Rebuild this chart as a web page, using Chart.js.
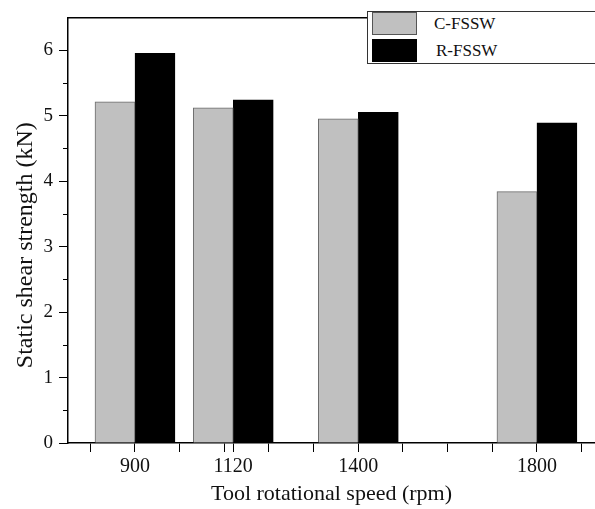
<!DOCTYPE html>
<html>
<head>
<meta charset="utf-8">
<script src="https://cdn.jsdelivr.net/npm/chart.js@4/dist/chart.umd.min.js"></script>
<style>
  html, body { margin: 0; padding: 0; background: #fff; overflow: hidden; }
  #wrap { position: relative; width: 595px; height: 509px; }
  #legend {
    position: absolute; left: 367px; top: 11px; width: 240px; height: 51px;
    border: 1px solid #333; border-right: none; background: #fff;
    font-family: "Liberation Serif", "Times New Roman", serif; font-size: 17px; color: #111;
  }
  .row { position: absolute; left: 4px; height: 24px; }
  .sw { position: absolute; left: 0; top: 0; width: 45px; height: 23px; box-sizing: border-box; }
  .lbl { position: absolute; left: 62px; top: 2px; white-space: nowrap; }
</style>
</head>
<body>
<div id="wrap">
  <canvas id="chart"></canvas>
  <div id="legend">
    <div class="row" style="top:0px"><div class="sw" style="background:#c0c0c0;border:1.5px solid #555"></div><div class="lbl">C-FSSW</div></div>
    <div class="row" style="top:27px"><div class="sw" style="background:#000"></div><div class="lbl" style="left:64px">R-FSSW</div></div>
  </div>
</div>
<script>
// --- data ---
const speeds = [900, 1120, 1400, 1800];
const cFssw = [5.21, 5.12, 4.95, 3.84];
const rFssw = [5.95, 5.24, 5.05, 4.89];
const xTickValues = [800, 900, 1000, 1100, 1120, 1200, 1300, 1400, 1500, 1600, 1700, 1800, 1900];
const yTickValues = [0, 1, 2, 3, 4, 5, 6];
const yMinorValues = [0.5, 1.5, 2.5, 3.5, 4.5, 5.5];

const serif = "'Liberation Serif', 'Times New Roman', serif";

// short minor ticks on the y axis
const minorTicks = {
  id: "minorTicks",
  afterDraw(chart) {
    const y = chart.scales.y;
    const ctx = chart.ctx;
    ctx.save();
    ctx.strokeStyle = "#000";
    ctx.lineWidth = 1;
    yMinorValues.forEach(v => {
      const py = Math.round(y.getPixelForValue(v)) + 0.5;
      ctx.beginPath();
      ctx.moveTo(chart.chartArea.left - 5, py);
      ctx.lineTo(chart.chartArea.left, py);
      ctx.stroke();
    });
    ctx.restore();
  }
};

new Chart(document.getElementById("chart"), {
  type: "bar",
  data: {
    datasets: [
      {
        label: "C-FSSW",
        data: speeds.map((s, i) => ({ x: s, y: cFssw[i] })),
        backgroundColor: "#c0c0c0",
        borderColor: "#6a6a6a",
        borderWidth: 1,
        barThickness: 40
      },
      {
        label: "R-FSSW",
        data: speeds.map((s, i) => ({ x: s, y: rFssw[i] })),
        backgroundColor: "#000",
        borderColor: "#000",
        borderWidth: 1,
        barThickness: 40
      }
    ]
  },
  options: {
    responsive: true,
    maintainAspectRatio: false,
    animation: false,
    layout: { padding: { top: 11, left: 0, right: 0, bottom: 0 } },
    plugins: { legend: { display: false }, tooltip: { enabled: false } },
    scales: {
      x: {
        type: "linear",
        offset: false,
        min: 750,
        max: 1930,
        afterBuildTicks: s => { s.ticks = xTickValues.map(v => ({ value: v })); },
        afterFit: s => { s.height = 66; },
        grid: { drawOnChartArea: false, offset: false, tickLength: 9, color: "#000", tickWidth: 1 },
        border: { color: "#000", width: 1.5 },
        ticks: {
          autoSkip: false, maxRotation: 0, padding: 3,
          color: "#111", font: { family: serif, size: 20 },
          callback: v => speeds.includes(v) ? String(v) : ""
        },
        title: {
          display: true, text: "Tool rotational speed (rpm)",
          color: "#111", font: { family: serif, size: 22 },
          padding: { top: 0, bottom: 2 }
        }
      },
      x2: {
        type: "linear",
        position: "top",
        offset: false,
        grid: { drawOnChartArea: false, drawTicks: false },
        border: { color: "#000", width: 1.5 },
        ticks: { display: false }
      },
      y: {
        min: 0,
        max: 6.5,
        afterBuildTicks: s => { s.ticks = yTickValues.map(v => ({ value: v })); },
        afterFit: s => { s.width = 68; },
        grid: { drawOnChartArea: false, tickLength: 9, color: "#000", tickWidth: 1 },
        border: { color: "#000", width: 1.5 },
        ticks: {
          padding: 6,
          color: "#111", font: { family: serif, size: 19 },
          callback: v => String(v)
        },
        title: {
          display: true, text: "Static shear strength (kN)     ",
          color: "#111", font: { family: serif, size: 24 },
          padding: { top: 11, bottom: 0 }
        }
      }
    }
  },
  plugins: [minorTicks]
});
</script>
</body>
</html>
